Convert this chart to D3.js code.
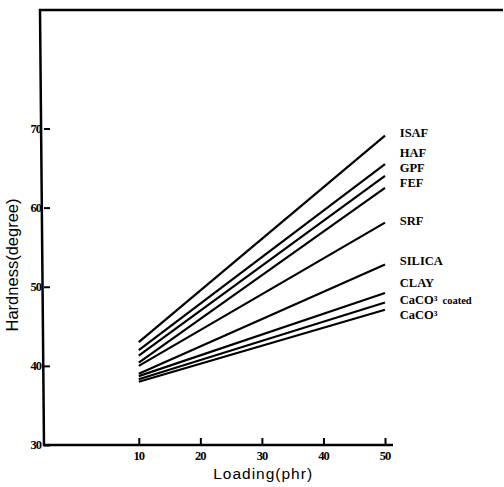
<!DOCTYPE html>
<html>
<head>
<meta charset="utf-8">
<script src="https://cdn.jsdelivr.net/npm/d3@7"></script>
<style>
  body { margin: 0; background: #fff; }
  svg { display: block; }
  .tick-label { font-family: "Liberation Serif", "DejaVu Serif", serif; font-weight: bold; font-size: 12.5px; }
  .series-label { font-family: "Liberation Serif", "DejaVu Serif", serif; font-weight: bold; font-size: 12.5px; }
  .axis-title { font-family: "Liberation Sans", Arial, sans-serif; }
</style>
</head>
<body>
<svg id="chart"></svg>
<script>
// filler names, top to bottom
const fillers = ['ISAF', 'HAF', 'GPF', 'FEF', 'SRF', 'SILICA', 'CLAY', 'CaCO³ coated', 'CaCO³'];
// hardness at 10 phr and 50 phr loading
const loadings = [10, 50];
const hardnessAt10 = [43.0, 42.0, 41.3, 40.4, 40.0, 39.0, 38.7, 38.3, 38.0];
const hardnessAt50 = [69.1, 65.5, 64.0, 62.5, 58.1, 52.8, 49.2, 48.0, 47.1];
// where each name sits on the hardness scale
const labelAt = [69.5, 67.0, 65.0, 63.1, 58.3, 53.3, 50.5, 48.4, 46.5];
const xTicks = [10, 20, 30, 40, 50];
const yTicks = [30, 40, 50, 60, 70];

const width = 504, height = 487;
const margin = {top: 9, right: 111, bottom: 42, left: 44};

const svg = d3.select('#chart')
    .attr('width', width)
    .attr('height', height);

const x = d3.scaleLinear()
    .domain([-5.4, 51.3])
    .range([margin.left, width - margin.right]);
const y = d3.scaleLinear()
    .domain([30, 85.1])
    .range([height - margin.bottom, margin.top]);

// ticks pointing into the plot
const yAxisG = svg.append('g')
    .attr('transform', `translate(${margin.left},0)`)
    .call(d3.axisRight(y).tickValues(yTicks).tickSize(6).tickFormat(''));
yAxisG.select('.domain').remove();
yAxisG.selectAll('line').attr('stroke-width', 2);

const xAxisG = svg.append('g')
    .attr('transform', `translate(0,${height - margin.bottom})`)
    .call(d3.axisTop(x).tickValues(xTicks).tickSize(7).tickFormat(''));
xAxisG.select('.domain').remove();
xAxisG.selectAll('line').attr('stroke-width', 2);

// frame: top rule across the page, left axis, bottom axis
const frame = d3.path();
frame.moveTo(width - 1, margin.top + 1);
frame.lineTo(margin.left - 4, margin.top + 1);
frame.lineTo(margin.left, height - margin.bottom);
frame.lineTo(x(51.3), height - margin.bottom);
svg.append('path')
    .attr('d', frame.toString())
    .attr('fill', 'none')
    .attr('stroke', '#000')
    .attr('stroke-width', 2.5)
    .attr('stroke-linejoin', 'miter');

// tick labels
svg.selectAll('.ylab')
    .data(yTicks)
    .join('text')
    .attr('class', 'tick-label')
    .attr('x', margin.left - 3)
    .attr('y', d => y(d))
    .attr('dy', '0.35em')
    .attr('text-anchor', 'end')
    .attr('letter-spacing', '-1')
    .text(d => d);

svg.selectAll('.xlab')
    .data(xTicks)
    .join('text')
    .attr('class', 'tick-label')
    .attr('x', d => x(d))
    .attr('y', height - margin.bottom + 15)
    .attr('text-anchor', 'middle')
    .attr('letter-spacing', '-1')
    .text(d => d);

// data lines
const line = d3.line()
    .x(d => x(d[0]))
    .y(d => y(d[1]));

svg.selectAll('.series')
    .data(fillers.map((f, i) => [[loadings[0], hardnessAt10[i]], [loadings[1], hardnessAt50[i]]]))
    .join('path')
    .attr('class', 'series')
    .attr('d', line)
    .attr('fill', 'none')
    .attr('stroke', '#000')
    .attr('stroke-width', 2.2);

// series names
const names = svg.selectAll('.series-label')
    .data(fillers)
    .join('text')
    .attr('class', 'series-label')
    .attr('x', x(52.4))
    .attr('y', (d, i) => y(labelAt[i]))
    .attr('dy', '0.35em');
names.each(function(d) {
  const t = d3.select(this);
  if (d.endsWith(' coated')) {
    t.append('tspan').text('CaCO³');
    t.append('tspan').attr('dx', 5).attr('font-size', '10.5px').text('coated');
  } else {
    t.text(d);
  }
});

// axis titles
svg.append('text')
    .attr('class', 'axis-title')
    .attr('font-size', '16.5px')
    .attr('transform', `translate(18,265) rotate(-90)`)
    .attr('text-anchor', 'middle')
    .text('Hardness(degree)');

svg.append('text')
    .attr('class', 'axis-title')
    .attr('font-size', '15.5px')
    .attr('x', x(30.2))
    .attr('y', height - 8)
    .attr('text-anchor', 'middle')
    .attr('letter-spacing', '1')
    .text('Loading(phr)');
</script>
</body>
</html>
